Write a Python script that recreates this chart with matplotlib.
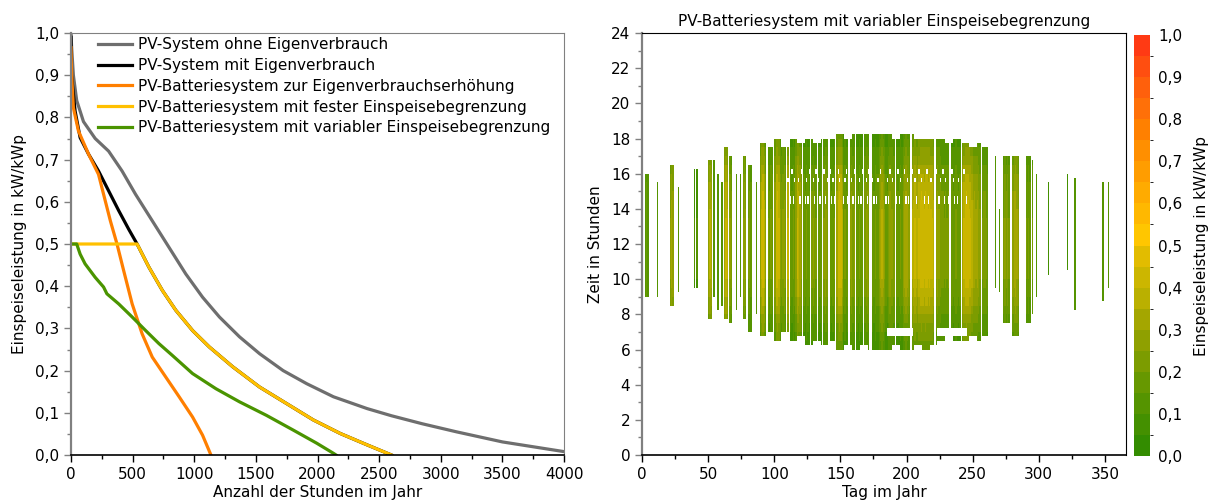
import numpy as np
import matplotlib
matplotlib.use("Agg")
import matplotlib.pyplot as plt
from matplotlib.colors import ListedColormap, BoundaryNorm
from matplotlib.ticker import MultipleLocator, FuncFormatter

plt.rcParams['font.family'] = ['DejaVu Sans']

# ---- left: sorted feed-in curves (hours per year, kW/kWp)
gray_h = [0, 4, 19, 46, 101, 196, 305, 414, 523, 659, 795, 931, 1067, 1204, 1367, 1530, 1721, 1912,
          2129, 2402, 2600, 2850, 3126, 3500, 4000]
gray_v = [1.0, 0.97, 0.90, 0.84, 0.79, 0.75, 0.72, 0.673, 0.618, 0.555, 0.492, 0.429, 0.374, 0.327,
          0.28, 0.24, 0.20, 0.169, 0.138, 0.11, 0.093, 0.074, 0.055, 0.031, 0.008]

black_h = [0, 4, 33, 74, 142, 223, 305, 387, 468, 536, 632, 741, 850, 986, 1122, 1312, 1530, 1748,
           1966, 2184, 2402, 2600]
black_v = [0.99, 0.90, 0.815, 0.752, 0.713, 0.673, 0.626, 0.579, 0.535, 0.50, 0.445, 0.39, 0.343,
           0.295, 0.256, 0.209, 0.161, 0.122, 0.083, 0.051, 0.024, 0.0]

orange_h = [0, 5, 19, 60, 142, 223, 264, 319, 373, 427, 496, 577, 659, 768, 877, 986, 1067, 1135]
orange_v = [0.965, 0.90, 0.823, 0.768, 0.713, 0.665, 0.618, 0.555, 0.50, 0.437, 0.358, 0.287, 0.232,
            0.185, 0.138, 0.09, 0.047, 0.0]

yellow_h = [0, 536, 632, 741, 850, 986, 1122, 1312, 1530, 1748, 1966, 2184, 2402, 2600]
yellow_v = [0.5, 0.5, 0.445, 0.39, 0.343, 0.295, 0.256, 0.209, 0.161, 0.122, 0.083, 0.051, 0.024, 0.0]

green_h = [0, 46, 74, 114, 196, 264, 291, 387, 496, 605, 713, 822, 986, 1176, 1367, 1585, 1803, 1993,
           2129, 2150]
green_v = [0.5, 0.5, 0.476, 0.453, 0.421, 0.398, 0.382, 0.358, 0.327, 0.295, 0.264, 0.236, 0.193,
           0.157, 0.126, 0.094, 0.059, 0.028, 0.004, 0.0]

labels = ["PV-System ohne Eigenverbrauch",
          "PV-System mit Eigenverbrauch",
          "PV-Batteriesystem zur Eigenverbrauchserhöhung",
          "PV-Batteriesystem mit fester Einspeisebegrenzung",
          "PV-Batteriesystem mit variabler Einspeisebegrenzung"]

# ---- right: daily peak feed-in (kW/kWp), day 0..364, 0 = no feed-in
day_peak = [
    0, 0, .15, .18, .15, 0, 0, 0, 0, 0,
    0, .12, 0, 0, 0, 0, 0, 0, 0, 0,
    0, .25, .32, .28, 0, 0, 0, .15, 0, 0,
    0, 0, 0, 0, 0, 0, 0, 0, 0, .10,
    0, .10, 0, 0, 0, 0, 0, 0, 0, 0,
    .30, .36, .32, 0, .15, 0, 0, .15, 0, 0,
    .15, 0, .35, .40, .36, 0, .25, .22, 0, 0,
    0, .15, 0, 0, .15, 0, .25, .30, .26, 0,
    .20, .22, .18, 0, 0, 0, .15, 0, 0, .30,
    .42, .44, .38, .26, 0, .20, .17, .21, .19, 0,
    .30, .43, .44, .40, .26, .24, .26, .27, .22, 0,
    .40, 0, .19, .17, .21, .19, .30, .40, .39, .35,
    .26, 0, .19, .17, .21, .19, .17, 0, .22, .25,
    .22, .20, 0, .19, .17, .19, 0, .25, .28, .26,
    .24, 0, .19, .17, .19, .20, 0, .34, .43, .44,
    .43, .36, .19, .21, .17, .19, 0, .26, .28, .24,
    .26, 0, .19, .17, .21, .19, .17, 0, .24, .26,
    .28, .24, 0, 0, .19, .17, .21, .19, .19, .26,
    .32, .36, .32, .26, .19, .17, .24, .28, .26, .26,
    .24, 0, .19, .17, .19, .21, .19, .28, .32, .34,
    .32, .30, .26, 0, .36, .38, .40, .38, .36, .40,
    .43, .44, .43, .42, .44, .43, .42, .43, .41, .40,
    .37, 0, .26, .28, .26, .24, .22, .22, .20, .22,
    .20, .22, 0, 0, .19, .17, .19, .21, .19, .17,
    .19, 0, .35, .40, .43, .44, .43, .42, .40, .37,
    .32, .33, .31, .32, .28, .26, 0, .20, .22, .22,
    .20, .19, 0, 0, 0, 0, 0, .15, 0, 0,
    .15, 0, 0, .20, .25, .22, .25, .20, 0, 0,
    .28, .33, .34, .31, .26, 0, 0, 0, 0, 0,
    .20, .18, .20, .18, 0, .20, 0, 0, .15, 0,
    0, 0, 0, 0, 0, 0, 0, .08, 0, 0,
    0, 0, 0, 0, 0, 0, 0, 0, 0, 0,
    0, .08, 0, 0, 0, 0, 0, .15, 0, 0,
    0, 0, 0, 0, 0, 0, 0, 0, 0, 0,
    0, 0, 0, 0, 0, 0, 0, 0, .15, 0,
    0, 0, .15, 0, 0, 0, 0, 0, 0, 0,
    0, 0, 0, 0, 0,
]
# feed-in window (first day, last day, from hour, to hour)
win_d0 = [0, 10, 20, 26, 38, 49, 54, 57, 60, 62, 66, 70, 73, 76, 80, 85,
          89, 94, 100, 105, 111, 117, 123, 129, 135, 141, 147, 153, 159, 165, 171, 177, 183, 189, 195,
          201, 206, 212, 218, 223, 229, 235, 241, 247, 253, 257,
          263, 269, 272, 280, 290, 294, 297, 301, 311, 324, 340, 350]
win_d1 = [5, 12, 24, 28, 42, 53, 56, 59, 61, 65, 69, 72, 75, 79, 84, 88,
          93, 99, 104, 110, 116, 122, 128, 134, 140, 146, 152, 158, 164, 170, 176, 182, 188, 194, 200,
          205, 211, 217, 222, 228, 234, 240, 246, 252, 256, 262,
          268, 271, 279, 289, 293, 296, 300, 310, 323, 330, 349, 364]
win_h0 = [8.8, 9.0, 8.4, 9.2, 9.3, 7.7, 8.9, 8.2, 8.3, 7.6, 7.5, 8.1, 8.8, 7.7, 6.9, 8.0,
          6.7, 7.0, 6.5, 6.8, 6.4, 6.6, 6.2, 6.5, 6.1, 6.3, 5.9, 6.2, 5.9, 6.1, 5.8, 6.0, 5.8, 6.1, 5.8,
          6.0, 6.1, 6.0, 6.2, 6.4, 6.6, 6.4, 6.5, 6.7, 6.5, 6.6,
          9.4, 9.2, 7.3, 6.7, 7.4, 7.8, 9.0, 10.1, 10.4, 8.2, 8.7, 9.4]
win_h1 = [15.8, 15.4, 16.3, 15.1, 16.1, 16.6, 16.6, 15.8, 15.5, 17.5, 16.8, 15.9, 16.0, 17.0, 16.4, 15.5,
          17.6, 17.3, 17.8, 17.5, 17.8, 17.6, 17.9, 17.7, 18.0, 17.9, 18.2, 18.0, 18.2, 18.1, 18.2, 18.1,
          18.2, 18.0, 18.2, 18.1, 18.0, 18.0, 17.9, 17.8, 17.6, 17.8, 17.6, 17.5, 17.6, 17.3,
          17.0, 13.9, 17.0, 16.8, 16.8, 16.6, 15.8, 15.4, 15.9, 15.6, 15.5, 15.4]
# relative level per half hour of the day (0:00 ... 23:30)
halfhour_factor = [0] * 10 + [
    .35, .40, .45, .50, .58, .66, .75, .83, .90, .95, 1, 1, 1, 1, 1,
    1, 1, .98, .95, .92, .88, .82, .75, .68, .60, .52, .45, .40, .35, .30] + [0] * 8
# white gaps in the map (from hour, to hour, days)
gap_h0 = [14.25, 15.5, 16.0, 6.75, 6.75]
gap_h1 = [14.75, 15.75, 16.25, 7.25, 7.25]
gap_days = [
    [112, 114, 119, 123, 125, 130, 134, 138, 143, 145, 152, 155, 159, 163, 165, 170, 175, 177, 184,
     186, 192, 194, 199, 201, 207, 213, 216, 224, 228, 231, 236, 238, 245],
    [110, 115, 118, 124, 129, 133, 140, 144, 149, 153, 158, 164, 169, 174, 178, 185, 189, 195, 200,
     206, 211, 218, 225, 229, 235, 239],
    [113, 120, 126, 131, 137, 142, 148, 154, 160, 166, 171, 180, 187, 193, 198, 204, 209, 215, 222,
     227, 234, 243],
    list(range(185, 205)),
    list(range(223, 246)),
]

cbar_colors = ['#338c00', '#449000', '#559400', '#679800', '#7c9c00', '#8fa000', '#a4a600', '#bab000',
               '#ccb600', '#e2bc00', '#ffc600', '#ffb800', '#ffab00', '#ff9d00', '#ff8f00', '#ff8000',
               '#ff7008', '#ff600c', '#ff4e10', '#ff3a14']

fmt = FuncFormatter(lambda v, p: f"{v:.1f}".replace('.', ','))

fig = plt.figure(figsize=(12.1, 5.03), dpi=100)
ax1 = fig.add_axes([0.0587, 0.0954, 0.4075, 0.8390])
ax2 = fig.add_axes([0.5306, 0.0954, 0.4000, 0.8390])
cax = fig.add_axes([0.9372, 0.0934, 0.0132, 0.8370])

lw = 2.3
ax1.plot(gray_h, gray_v, color='#6e6e6e', lw=lw, label=labels[0])
ax1.plot(black_h, black_v, color='black', lw=lw, label=labels[1])
ax1.plot(orange_h, orange_v, color='#ff7f00', lw=lw, label=labels[2])
ax1.plot(yellow_h, yellow_v, color='#ffc000', lw=lw, label=labels[3])
ax1.plot(green_h, green_v, color='#4a9400', lw=lw, label=labels[4])

ax1.set_xlim(0, 4000)
ax1.set_ylim(0, 1.0)
ax1.xaxis.set_major_locator(MultipleLocator(500))
ax1.xaxis.set_minor_locator(MultipleLocator(250))
ax1.yaxis.set_major_locator(MultipleLocator(0.1))
ax1.yaxis.set_minor_locator(MultipleLocator(0.05))
ax1.yaxis.set_major_formatter(fmt)
ax1.set_xlabel("Anzahl der Stunden im Jahr", fontsize=11, labelpad=2)
ax1.set_ylabel("Einspeiseleistung in kW/kWp", fontsize=11, labelpad=6)
ax1.legend(loc='upper left', bbox_to_anchor=(0.036, 1.012), frameon=False, fontsize=11,
           handlelength=2.2, handletextpad=0.45, labelspacing=0.38, borderaxespad=0.2)

# heatmap grid: 365 days x 96 quarter hours
qh = np.arange(96) / 4.0
peak = np.array(day_peak)
fac = np.repeat(np.array(halfhour_factor), 2)
grid = np.full((96, 365), np.nan)
for d0, d1, h0, h1 in zip(win_d0, win_d1, win_h0, win_h1):
    rows = (qh >= h0 - 0.01) & (qh < h1)
    for d in range(d0, d1 + 1):
        if peak[d] > 0:
            grid[rows, d] = peak[d] * np.maximum(fac[rows], 0.3)
for h0, h1, days in zip(gap_h0, gap_h1, gap_days):
    rows = (qh >= h0) & (qh < h1)
    grid[np.ix_(rows, np.array(days))] = np.nan
grid = np.ma.masked_invalid(grid)

cmap = ListedColormap(cbar_colors)
norm = BoundaryNorm(np.linspace(0, 1, 21), cmap.N)
mesh = ax2.pcolormesh(np.arange(366), np.arange(97) / 4.0, grid, cmap=cmap, norm=norm, shading='flat')
ax2.set_xlim(0, 366)
ax2.set_ylim(0, 24)
ax2.xaxis.set_major_locator(MultipleLocator(50))
ax2.xaxis.set_minor_locator(MultipleLocator(25))
ax2.yaxis.set_major_locator(MultipleLocator(2))
ax2.yaxis.set_minor_locator(MultipleLocator(1))
ax2.set_xlabel("Tag im Jahr", fontsize=11, labelpad=2)
ax2.set_ylabel("Zeit in Stunden", fontsize=11, labelpad=6)
ax2.set_title("PV-Batteriesystem mit variabler Einspeisebegrenzung", fontsize=11, pad=5)

for ax in (ax1, ax2):
    ax.tick_params(which='both', labelsize=11, direction='out', top=False, right=False)
    ax.tick_params(which='major', length=5, width=1)
    ax.tick_params(which='minor', length=3, width=1)
    ax.spines['left'].set_color('#808080')
    ax.spines['left'].set_linewidth(1.6)
    ax.spines['bottom'].set_color('black')
    ax.spines['bottom'].set_linewidth(1.2)
    ax.tick_params(axis='y', which='both', colors='#808080', labelcolor='black')
ax1.spines['top'].set_color('#808080')
ax1.spines['right'].set_color('#808080')
ax2.spines['top'].set_color('black')
ax2.spines['right'].set_color('black')

cb = fig.colorbar(mesh, cax=cax, ticks=np.linspace(0, 1, 11))
cb.outline.set_visible(False)
cb.ax.yaxis.set_major_formatter(fmt)
cb.ax.tick_params(length=0, labelsize=11, pad=6)
cb.set_label("Einspeiseleistung in kW/kWp", fontsize=11, labelpad=8)

fig.savefig("out.png", dpi=100)
